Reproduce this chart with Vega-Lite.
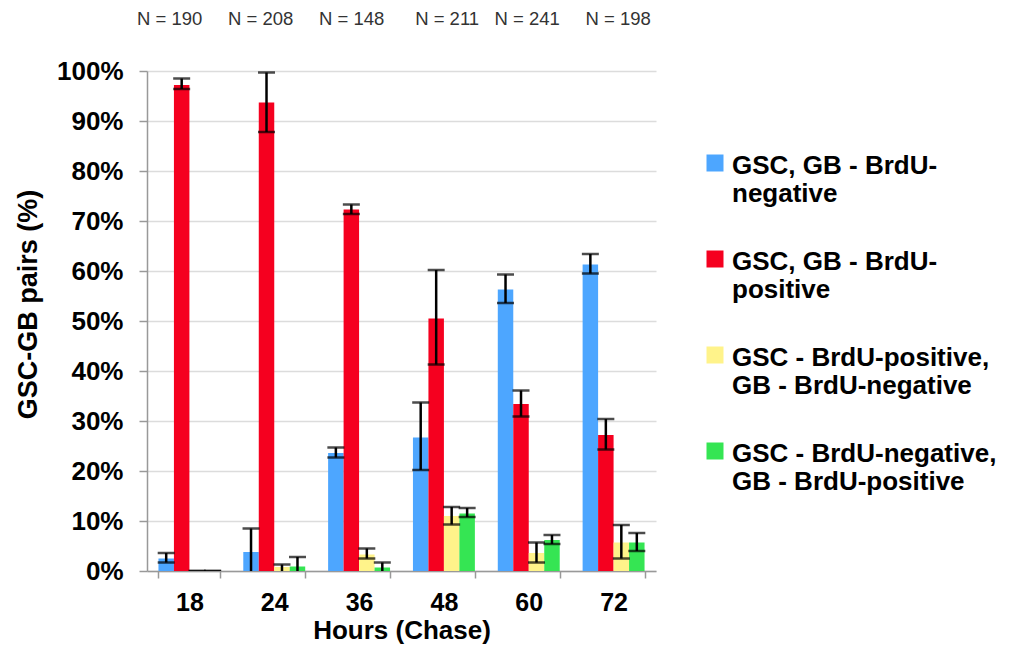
{
  "$schema": "https://vega.github.io/schema/vega-lite/v6.json",
  "width": 509,
  "height": 500,
  "autosize": {"type": "none"},
  "padding": {"left": 147, "top": 71, "right": 365, "bottom": 88},
  "title": {
    "text": "N = 190\u00a0\u00a0\u00a0\u00a0\u00a0N = 208\u00a0\u00a0\u00a0\u00a0\u00a0N = 148\u00a0\u00a0\u00a0\u00a0\u00a0\u00a0N = 211\u00a0\u00a0\u00a0N = 241\u00a0\u00a0\u00a0\u00a0\u00a0N = 198",
    "anchor": "start",
    "frame": "group",
    "dx": -10,
    "offset": 15,
    "baseline": "alphabetic",
    "font": "Liberation Sans",
    "fontSize": 18.5,
    "fontWeight": "normal",
    "color": "#333333"
  },
  "data": {
    "values": [
      {"hours": 18, "series": "GSC, GB - BrdU-negative", "value": 2.5, "lo": 1.7, "hi": 3.6},
      {"hours": 18, "series": "GSC, GB - BrdU-positive", "value": 97.2, "lo": 96.4, "hi": 98.5},
      {"hours": 18, "series": "GSC - BrdU-positive, GB - BrdU-negative", "value": 0, "lo": 0, "hi": 0},
      {"hours": 18, "series": "GSC - BrdU-negative, GB - BrdU-positive", "value": 0, "lo": 0, "hi": 0},
      {"hours": 24, "series": "GSC, GB - BrdU-negative", "value": 3.8, "lo": -0.9, "hi": 8.5},
      {"hours": 24, "series": "GSC, GB - BrdU-positive", "value": 93.7, "lo": 87.8, "hi": 99.7},
      {"hours": 24, "series": "GSC - BrdU-positive, GB - BrdU-negative", "value": 0.8, "lo": -0.3, "hi": 1.3},
      {"hours": 24, "series": "GSC - BrdU-negative, GB - BrdU-positive", "value": 0.9, "lo": -1.0, "hi": 2.8},
      {"hours": 36, "series": "GSC, GB - BrdU-negative", "value": 23.6, "lo": 22.7, "hi": 24.7},
      {"hours": 36, "series": "GSC, GB - BrdU-positive", "value": 72.3, "lo": 71.4, "hi": 73.3},
      {"hours": 36, "series": "GSC - BrdU-positive, GB - BrdU-negative", "value": 3.3, "lo": 2.5, "hi": 4.5},
      {"hours": 36, "series": "GSC - BrdU-negative, GB - BrdU-positive", "value": 0.7, "lo": -0.3, "hi": 1.7},
      {"hours": 48, "series": "GSC, GB - BrdU-negative", "value": 26.7, "lo": 20.2, "hi": 33.7},
      {"hours": 48, "series": "GSC, GB - BrdU-positive", "value": 50.5, "lo": 41.3, "hi": 60.2},
      {"hours": 48, "series": "GSC - BrdU-positive, GB - BrdU-negative", "value": 11.0, "lo": 9.3, "hi": 12.8},
      {"hours": 48, "series": "GSC - BrdU-negative, GB - BrdU-positive", "value": 11.5, "lo": 10.8, "hi": 12.6},
      {"hours": 60, "series": "GSC, GB - BrdU-negative", "value": 56.3, "lo": 53.6, "hi": 59.3},
      {"hours": 60, "series": "GSC, GB - BrdU-positive", "value": 33.4, "lo": 30.9, "hi": 36.1},
      {"hours": 60, "series": "GSC - BrdU-positive, GB - BrdU-negative", "value": 3.6, "lo": 1.7, "hi": 5.7},
      {"hours": 60, "series": "GSC - BrdU-negative, GB - BrdU-positive", "value": 6.2, "lo": 5.4, "hi": 7.2},
      {"hours": 72, "series": "GSC, GB - BrdU-negative", "value": 61.3, "lo": 59.5, "hi": 63.4},
      {"hours": 72, "series": "GSC, GB - BrdU-positive", "value": 27.2, "lo": 24.3, "hi": 30.4},
      {"hours": 72, "series": "GSC - BrdU-positive, GB - BrdU-negative", "value": 5.7, "lo": 2.5, "hi": 9.2},
      {"hours": 72, "series": "GSC - BrdU-negative, GB - BrdU-positive", "value": 5.7, "lo": 4.0, "hi": 7.6}
    ]
  },
  "encoding": {
    "x": {
      "field": "hours",
      "type": "ordinal",
      "title": "Hours (Chase)",
      "scale": {"paddingInner": 0.27, "paddingOuter": 0.135},
      "axis": {
        "labelAngle": 0,
        "tickBand": "extent",
        "tickSize": 7,
        "tickColor": "#999999",
        "tickWidth": 1.5,
        "domainColor": "#999999",
        "domainWidth": 1.5,
        "labelFont": "Liberation Sans",
        "labelFontSize": 25,
        "labelFontWeight": "bold",
        "labelColor": "#000000",
        "labelPadding": 12,
        "titleFont": "Liberation Sans",
        "titleFontSize": 26,
        "titleFontWeight": "bold",
        "titleColor": "#000000",
        "titlePadding": 2,
        "grid": false
      }
    },
    "xOffset": {
      "field": "series",
      "type": "nominal",
      "scale": {
        "domain": ["GSC, GB - BrdU-negative", "GSC, GB - BrdU-positive", "GSC - BrdU-positive, GB - BrdU-negative", "GSC - BrdU-negative, GB - BrdU-positive"],
        "paddingInner": 0,
        "paddingOuter": 0
      }
    }
  },
  "layer": [
    {
      "mark": {"type": "bar"},
      "encoding": {
        "y": {
          "field": "value",
          "type": "quantitative",
          "title": "GSC-GB pairs (%)",
          "scale": {"domain": [0, 100]},
          "axis": {
            "values": [0, 10, 20, 30, 40, 50, 60, 70, 80, 90, 100],
            "labelExpr": "datum.value + '%'",
            "labelFont": "Liberation Sans",
            "labelFontSize": 26,
            "labelFontWeight": "bold",
            "labelColor": "#000000",
            "labelPadding": 16,
            "tickSize": 8,
            "tickColor": "#999999",
            "tickWidth": 1.5,
            "domainColor": "#999999",
            "domainWidth": 1.5,
            "gridColor": "#dcdcdc",
            "gridWidth": 1.5,
            "titleFont": "Liberation Sans",
            "titleFontSize": 27,
            "titleFontWeight": "bold",
            "titleColor": "#000000",
            "titlePadding": 14,
            "titleY": 233
          }
        },
        "color": {
          "field": "series",
          "type": "nominal",
          "scale": {
            "domain": ["GSC, GB - BrdU-negative", "GSC, GB - BrdU-positive", "GSC - BrdU-positive, GB - BrdU-negative", "GSC - BrdU-negative, GB - BrdU-positive"],
            "range": ["#4da6ff", "#f5001f", "#fff38a", "#35e553"]
          },
          "legend": {
            "orient": "none",
            "legendX": 555,
            "legendY": 79,
            "title": null,
            "symbolType": "square",
            "symbolSize": 289,
            "symbolStrokeWidth": 0,
            "labelFont": "Liberation Sans",
            "labelFontSize": 26,
            "labelFontWeight": "bold",
            "labelColor": "#000000",
            "labelLimit": 400,
            "labelOffset": 4,
            "labelBaseline": "top",
            "rowPadding": 39,
            "labelExpr": "datum.label == 'GSC, GB - BrdU-negative' ? ['GSC, GB - BrdU-', 'negative'] : datum.label == 'GSC, GB - BrdU-positive' ? ['GSC, GB - BrdU-', 'positive'] : datum.label == 'GSC - BrdU-positive, GB - BrdU-negative' ? ['GSC - BrdU-positive,', 'GB - BrdU-negative'] : ['GSC - BrdU-negative,', 'GB - BrdU-positive']",
            "encoding": {"labels": {"dy": {"value": -10}}}
          }
        }
      }
    },
    {
      "mark": {"type": "rule", "color": "#000000", "strokeWidth": 2.5, "clip": true},
      "encoding": {
        "y": {"field": "lo", "type": "quantitative", "title": "GSC-GB pairs (%)"},
        "y2": {"field": "hi"}
      }
    },
    {
      "mark": {"type": "tick", "color": "#000000", "thickness": 2.5, "size": 17, "clip": true},
      "encoding": {
        "y": {"field": "hi", "type": "quantitative", "title": "GSC-GB pairs (%)"}
      }
    },
    {
      "mark": {"type": "tick", "color": "#000000", "thickness": 2.5, "size": 17, "clip": true},
      "encoding": {
        "y": {"field": "lo", "type": "quantitative", "title": "GSC-GB pairs (%)"}
      }
    }
  ],
  "config": {
    "view": {"stroke": null},
    "font": "Liberation Sans"
  }
}
